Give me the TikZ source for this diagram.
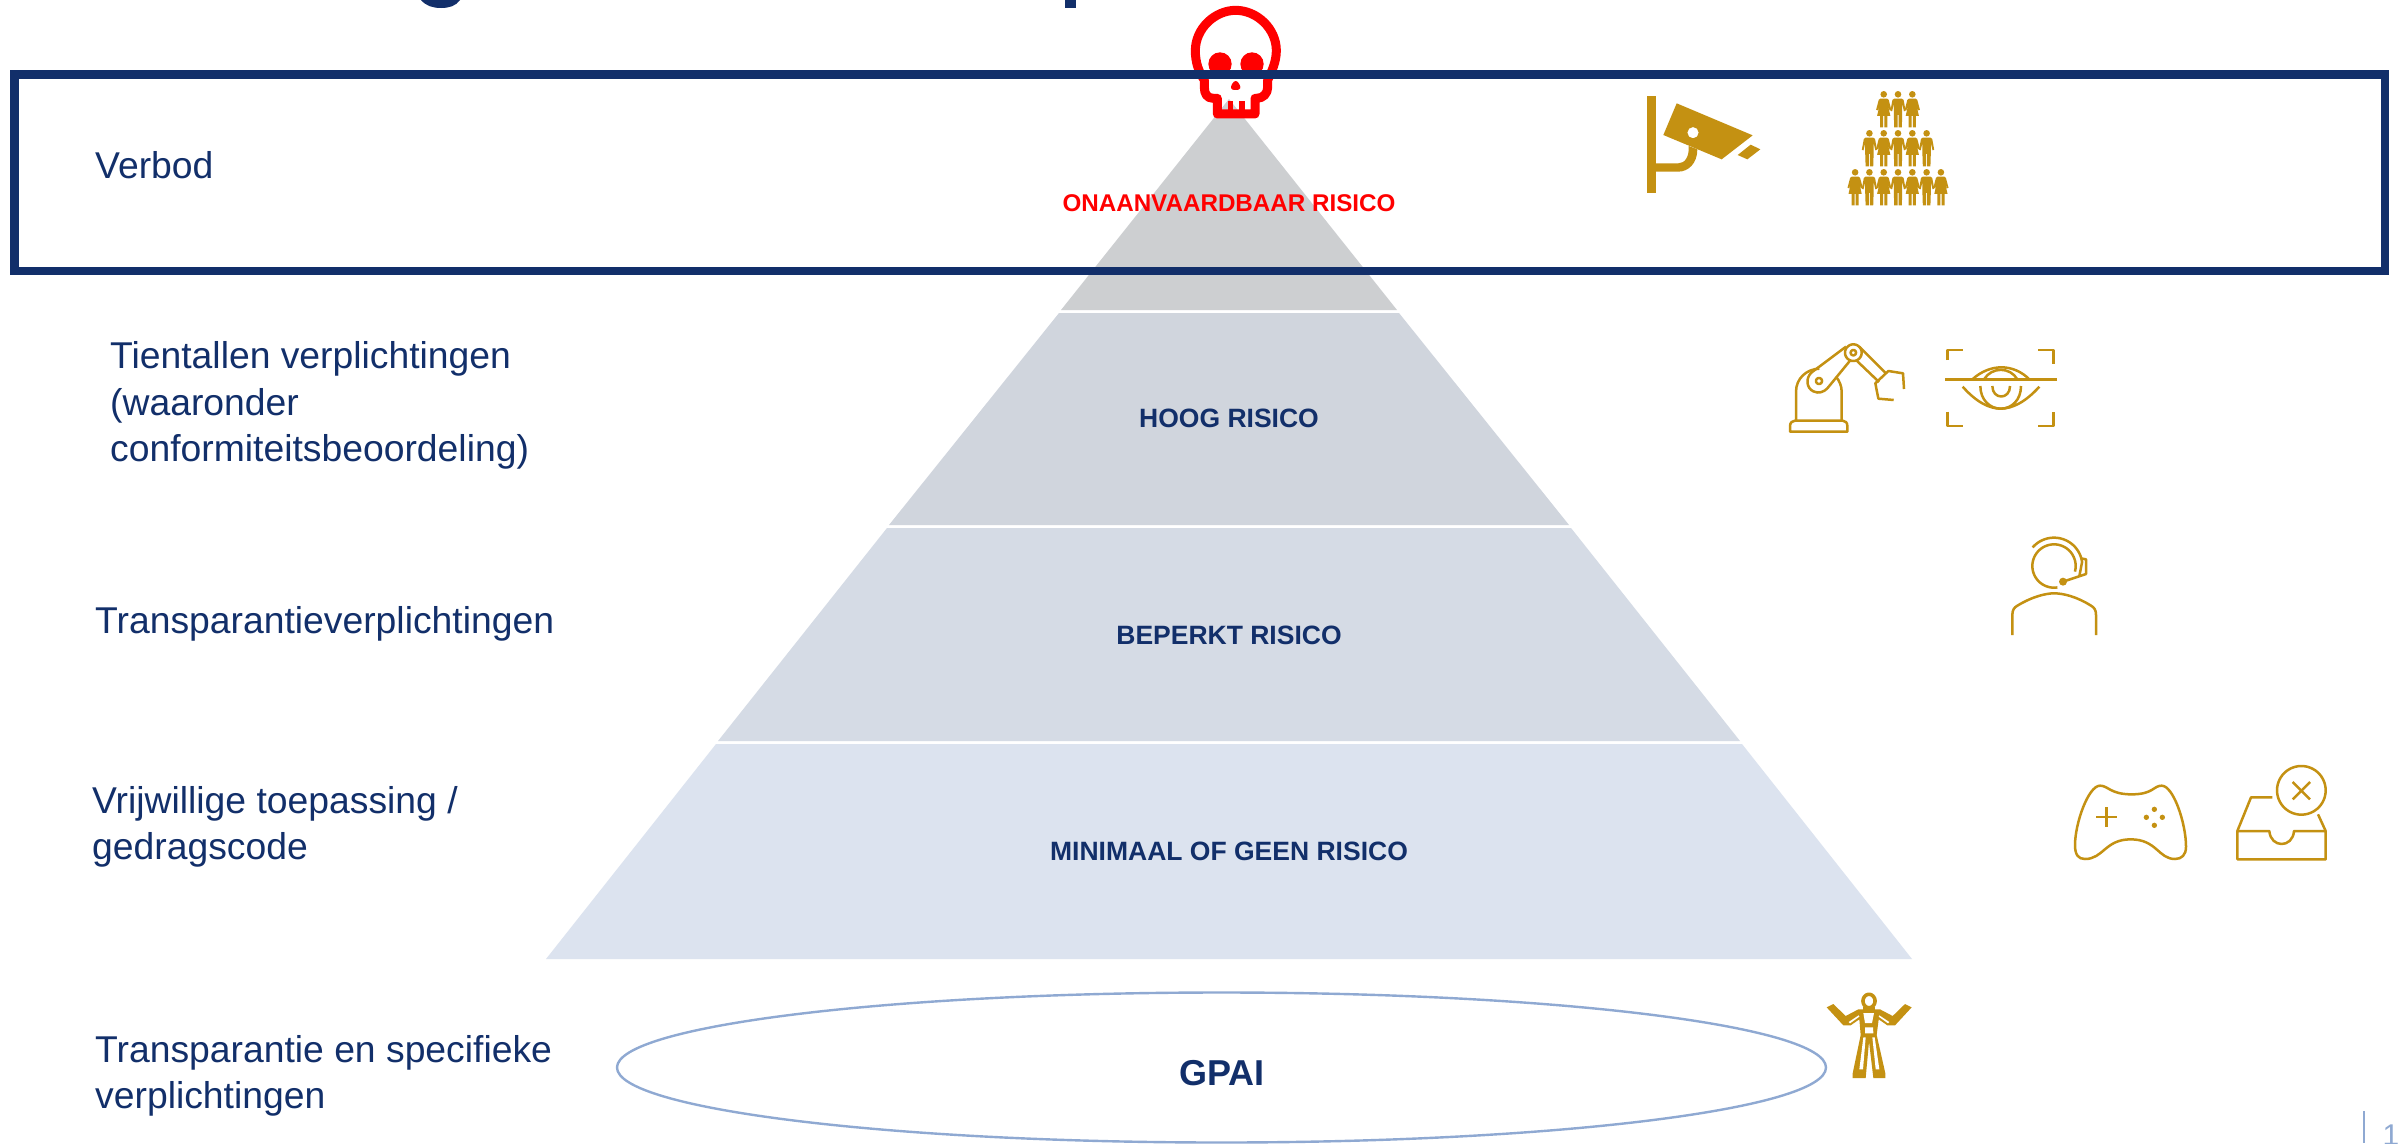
\documentclass[tikz,border=0pt]{standalone}
\usepackage{fontspec}
\setmainfont{Liberation Sans}
\definecolor{navy}{HTML}{122F6A}
\definecolor{gold}{HTML}{C49112}
\definecolor{tierA}{HTML}{CDCFD1}
\definecolor{tierB}{HTML}{D0D5DD}
\definecolor{tierC}{HTML}{D5DBE5}
\definecolor{tierD}{HTML}{DCE3EF}
\definecolor{pale}{HTML}{8FA9D2}
\definecolor{skullred}{HTML}{FF0000}
\tikzset{
  lefttext/.style={anchor=west,align=left,inner sep=0pt,text=navy,font=\fontsize{37.3}{46.5}\selectfont},
  tierlabel/.style={inner sep=0pt,text=navy,font=\fontsize{26.5}{30}\selectfont\bfseries},
  tierfill/.style={draw=none},
  icon/.style={draw=gold,line width=2.5pt,line cap=butt,line join=round},
}
\newcommand{\manfig}[2]{%
  \begin{scope}[shift={(#1,#2)}]
    \fill[gold] (0,0) circle (3.3);
    \fill[gold] (-3.6,4.2) -- (3.6,4.2) -- (5.6,5.6) -- (7.6,16.5) -- (5.9,17) -- (4.2,9.5) -- (4.2,20.5) -- (3.8,33) -- (0.5,33) -- (0.5,20.5) -- (-0.5,20.5) -- (-0.5,33) -- (-3.8,33) -- (-4.2,20.5) -- (-4.2,9.5) -- (-5.9,17) -- (-7.6,16.5) -- (-5.6,5.6) -- cycle;
  \end{scope}}
\newcommand{\womanfig}[2]{%
  \begin{scope}[shift={(#1,#2)}]
    \fill[gold] (0,0) circle (3.3);
    \fill[gold] (-3.2,4.2) -- (3.2,4.2) -- (5,5.6) -- (7.6,15.5) -- (5.9,16) -- (4,10) -- (6.6,21.5) -- (3.6,21.5) -- (3.6,33) -- (0.6,33) -- (0.6,21.5) -- (-0.6,21.5) -- (-0.6,33) -- (-3.6,33) -- (-3.6,21.5) -- (-6.6,21.5) -- (-4,10) -- (-5.9,16) -- (-7.6,15.5) -- (-5,5.6) -- cycle;
  \end{scope}}
\begin{document}
\begin{tikzpicture}[x=1pt,y=-1pt]
\useasboundingbox (0,0) rectangle (2400,1143);
\clip (0,0) rectangle (2400,1143);
\fill[white] (0,0) rectangle (2400,1143);
% cropped title remnants
\fill[navy] (421,0) .. controls (426,6) and (433,8) .. (441,8) .. controls (449,8) and (456,6) .. (460,0) -- cycle;
\fill[navy] (1065,0) rectangle (1076,7.5);
% pyramid
\fill[tierfill,tierA] (1229,99) -- (1397,310) -- (1061,310) -- cycle;
\fill[tierfill,tierB] (1059,313) -- (1399,313) -- (1569,525) -- (889,525) -- cycle;
\fill[tierfill,tierC] (887,528) -- (1571,528) -- (1740,741) -- (718,741) -- cycle;
\fill[tierfill,tierD] (716,744) -- (1742,744) -- (1912,959) -- (546,959) -- cycle;
% skull
\begin{scope}[shift={(1100,0)},scale=1/3]
  \draw[skullred,line width=9pt,line join=round] (352,342) -- (352,295) -- (340,295) .. controls (320,295) and (313,280) .. (313,262) -- (313,240) .. controls (295,215) and (286,185) .. (286,152) .. controls (286,85) and (345,31) .. (407,31) .. controls (470,31) and (529,85) .. (529,152) .. controls (529,185) and (515,215) .. (503,240) -- (503,262) .. controls (503,280) and (490,295) .. (470,295) -- (465,295) -- (465,342) -- cycle;
  \fill[skullred] (360,192) circle (35);
  \fill[skullred] (456,192) circle (35);
  \fill[skullred,rounded corners=6pt] (407,234) -- (428,270) -- (386,270) -- cycle;
  \fill[skullred] (383,303) rectangle (400,345);
  \fill[skullred] (418,303) rectangle (434,345);
\end{scope}
% frame
\node[draw=navy,line width=8.6pt,inner sep=0pt,outer sep=0pt,minimum width=2370.5pt,minimum height=196.5pt,anchor=north west] (frame) at (14.5,74.5) {};
% left labels
\node[lefttext] (verbod) at (95,165) {Verbod};
\node[lefttext] (tien) at (110,405.5) {Tientallen verplichtingen\\(waaronder\\conformiteitsbeoordeling)};
\node[lefttext] (transp) at (95,623.5) {Transparantieverplichtingen};
\node[lefttext] (vrij) at (92,827) {Vrijwillige toepassing /\\gedragscode};
\node[lefttext] (spec) at (95,1076) {Transparantie en specifieke\\verplichtingen};
% tier labels
\node[tierlabel,font=\fontsize{24.2}{28}\selectfont\bfseries,text=skullred] (t1) at (1229,203) {ONAANVAARDBAAR RISICO};
\node[tierlabel] (t2) at (1229,418) {HOOG RISICO};
\node[tierlabel] (t3) at (1229,635) {BEPERKT RISICO};
\node[tierlabel] (t4) at (1229,851) {MINIMAAL OF GEEN RISICO};
% GPAI ellipse
\draw[pale,line width=2.4pt] (1221.5,1067.5) ellipse (604.5 and 75);
\node[inner sep=0pt,text=navy,font=\fontsize{36}{42}\selectfont\bfseries] (gpai) at (1222,1073) {GPAI};
% camera
\begin{scope}[shift={(1600,60)},scale=1/3]
  \fill[gold] (142,107) rectangle (167,400);
  \fill[gold] (167,310) -- (235,310) .. controls (255,310) and (268,290) .. (266,258) -- (292,268) .. controls (292,310) and (265,335) .. (235,335) -- (167,335) -- cycle;
  \fill[gold,even odd rule] (230,130) -- (458,226) -- (365,298) -- (190,225) -- cycle (279,218) circle (17);
  \fill[gold] (452,254) -- (481,268) -- (442,298) -- (413,285) -- cycle;
\end{scope}
% crowd
\foreach \x/\k in {1883.7/0,1898/1,1912.3/0}{\ifnum\k=0 \womanfig{\x}{94.3}\else\manfig{\x}{94.3}\fi}
\foreach \x/\k in {1869.4/1,1883.7/0,1898/1,1912.3/0,1926.6/1}{\ifnum\k=0 \womanfig{\x}{133.3}\else\manfig{\x}{133.3}\fi}
\foreach \x/\k in {1855.1/0,1869.4/1,1883.7/0,1898/1,1912.3/0,1926.6/1,1940.9/0}{\ifnum\k=0 \womanfig{\x}{172.3}\else\manfig{\x}{172.3}\fi}
% robot arm
\begin{scope}[shift={(1760,320)},scale=1/3,every path/.append style={icon}]
  \draw (90,335) -- (90,318) .. controls (90,308) and (97,302) .. (105,302) -- (248,302) .. controls (256,302) and (262,308) .. (262,318) -- (262,335) -- cycle;
  \draw (108,302) -- (108,215) .. controls (108,175) and (140,147) .. (178,146);
  \draw (245,302) -- (245,215) .. controls (245,198) and (238,182) .. (228,170);
  \draw (258,80) -- (155,157) .. controls (135,175) and (140,205) .. (160,214) .. controls (175,222) and (192,216) .. (202,205) -- (270,122);
  \draw plot[domain=0:360,samples=40] ({280+25*cos(\x)},{98+25*sin(\x)});
  \draw plot[domain=0:360,samples=24] ({280+8*cos(\x)},{98+8*sin(\x)});
  \draw plot[domain=0:360,samples=24] ({177+9*cos(\x)},{183+9*sin(\x)});
  \draw (298,80) -- (378,160);
  \draw (290,122) -- (357,186);
  \draw (432,207) -- (429,160) -- (385,153) -- (346,190) -- (355,236) -- (401,240);
  % eye scanner
  \draw (563,120) -- (563,90) -- (610,90);
  \draw (835,90) -- (880,90) -- (880,133);
  \draw (563,275) -- (563,318) -- (610,318);
  \draw (835,318) -- (880,318) -- (880,275);
  \draw (555,178) -- (890,178);
  \draw (637,178) .. controls (690,130) and (760,130) .. (808,178);
  \draw (672,178) .. controls (695,140) and (750,140) .. (772,178);
  \draw (608,200) .. controls (650,248) and (690,266) .. (722,266) .. controls (755,266) and (795,248) .. (838,200);
  \draw (661,198) .. controls (661,240) and (690,266) .. (722,266) .. controls (755,266) and (783,240) .. (783,198);
  \draw (697,198) .. controls (697,240) and (750,240) .. (750,198);
\end{scope}
% headset person
\begin{scope}[shift={(1980,520)},scale=1/3,every path/.append style={icon}]
  \draw plot[domain=81:375,samples=60] ({222+65*cos(\x)},{138+65*sin(\x)});
  \draw plot[domain=221:352,samples=40] ({222+85*cos(\x)},{138+85*sin(\x)}) -- (298,168);
  \draw (303,115) -- (318,118) -- (318,162) -- (249,185);
  \fill[gold,draw=none] (249,185) circle (12);
  \draw (97,345) -- (97,285) .. controls (97,270) and (102,263) .. (112,257) .. controls (160,228) and (200,220) .. (222,220) .. controls (250,220) and (290,230) .. (333,257) .. controls (343,263) and (348,270) .. (348,285) -- (348,345);
\end{scope}
% gamepad and inbox
\begin{scope}[shift={(2040,750)},scale=1/3,every path/.append style={icon}]
  \draw (180,107) .. controls (205,107) and (210,133) .. (275,133) .. controls (340,133) and (340,107) .. (365,107) .. controls (400,107) and (438,220) .. (438,290) .. controls (438,315) and (425,327) .. (405,327) .. controls (355,327) and (350,268) .. (272,268) .. controls (195,268) and (190,327) .. (135,327) .. controls (115,327) and (105,315) .. (105,285) .. controls (105,220) and (145,107) .. (180,107) -- cycle;
  \draw (168,201) -- (230,201);
  \draw (199,172) -- (199,232);
  \fill[gold,draw=none] (343,178) circle (8);
  \fill[gold,draw=none] (343,226) circle (8);
  \fill[gold,draw=none] (319,202) circle (8);
  \fill[gold,draw=none] (367,202) circle (8);
  \draw plot[domain=0:360,samples=60] ({784+73*cos(\x)},{121+73*sin(\x)});
  \draw (758,96) -- (810,148);
  \draw (810,96) -- (758,148);
  \draw (592,243) -- (592,328) -- (857,328) -- (857,243) -- (762,243) .. controls (758,295) and (692,295) .. (688,243) -- cycle;
  \draw (592,243) -- (633,142) -- (697,142);
  \draw (857,243) -- (834,193);
\end{scope}
% mannequin
\begin{scope}[shift={(1800,980)},scale=1/3]
  \draw[gold,line width=3.6pt] plot[domain=0:360,samples=40] ({207+18*cos(\x)},{63+20*sin(\x)});
  \fill[gold] (190,80) rectangle (224,96);
  \fill[gold,line join=round] (80,82) -- (100,72) -- (137,108) -- (175,88) -- (240,88) -- (278,108) -- (315,72) -- (335,82) -- (285,136) -- (262,136) -- (236,118) -- (230,165) -- (256,280) -- (256,294) -- (220,294) -- (207,185) -- (197,294) -- (158,294) -- (158,280) -- (182,165) -- (178,118) -- (152,136) -- (130,136) -- cycle;
  \fill[white] (190,99) -- (222,99) -- (216,129) -- (195,129) -- cycle;
  \fill[white] (195,142) -- (219,142) -- (220,160) -- (195,160) -- cycle;
  \fill[white] (190,172) -- (197,172) -- (189,268) -- (178,268) -- cycle;
  \fill[white] (217,172) -- (224,172) -- (238,268) -- (227,268) -- cycle;
  \fill[white] (146,126) -- (176,106) -- (178,110) -- (150,130) -- cycle;
  \fill[white] (268,126) -- (238,106) -- (236,110) -- (264,130) -- cycle;
\end{scope}
% page number
\coordinate (rulebottom) at (2364,1143);
\coordinate (ruletop) at (2364,1111);
\draw[pale,line width=2pt] (ruletop) -- (rulebottom);
\node[anchor=base,inner sep=0pt,text=pale,font=\fontsize{30}{34}\selectfont] (pagenum) at (2391,1145) {1};
\end{tikzpicture}
\end{document}
